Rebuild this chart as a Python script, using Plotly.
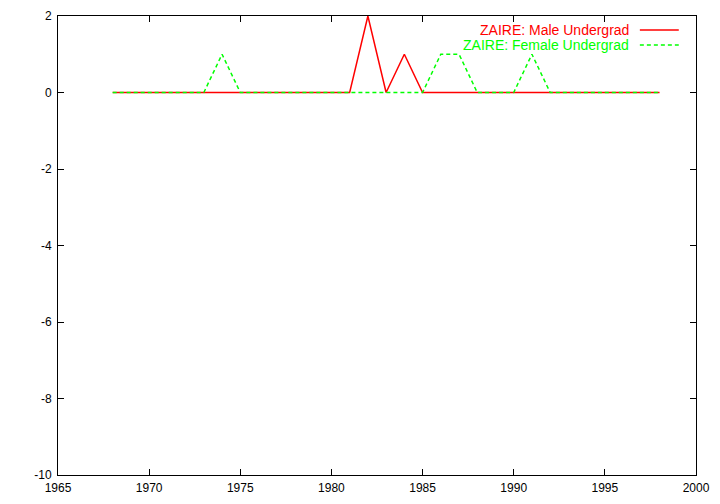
import plotly.graph_objects as go

years = list(range(1968, 1999))
male = [0]*len(years)
female = [0]*len(years)
male_vals = {1982: 2, 1984: 1}
female_vals = {1974: 1, 1986: 1, 1987: 1, 1991: 1}
for y, v in male_vals.items():
    male[years.index(y)] = v
for y, v in female_vals.items():
    female[years.index(y)] = v

x_ticks = [1965, 1970, 1975, 1980, 1985, 1990, 1995, 2000]
y_ticks = [-10, -8, -6, -4, -2, 0, 2]
y_tick_text = ["-10", "-8", "-6", "-4", "-2", "0", "2"]

RED = "#ff0000"
GREEN = "#00ff00"

fig = go.Figure()
fig.add_trace(go.Scatter(x=years, y=male, mode="lines", name="ZAIRE: Male Undergrad",
                         line=dict(color=RED, width=1.5), showlegend=False))
fig.add_trace(go.Scatter(x=years, y=female, mode="lines", name="ZAIRE: Female Undergrad",
                         line=dict(color=GREEN, width=1.5, dash="4px,3px"), showlegend=False))

axis_common = dict(showgrid=False, zeroline=False, showline=True, linecolor="black",
                   linewidth=1, ticks="inside", ticklen=6, tickcolor="black",
                   mirror="ticks", automargin=False,
                   tickfont=dict(family="Liberation Sans, Arial", size=12, color="black"))

fig.update_layout(
    width=720, height=504,
    margin=dict(l=58, r=24, t=16, b=29),
    paper_bgcolor="white", plot_bgcolor="white",
    xaxis=dict(range=[1965, 2000], tickvals=x_ticks, ticklabelstandoff=2, **axis_common),
    yaxis=dict(range=[-10, 2], tickvals=y_ticks, ticktext=y_tick_text,
               ticklabelstandoff=3, **axis_common),
    font=dict(family="Liberation Sans, Arial", size=12),
)

legend_items = [("ZAIRE: Male Undergrad", RED, "solid", 0.9695),
                ("ZAIRE: Female Undergrad", GREEN, "4px,3px", 0.937)]
for text, color, dash, yp in legend_items:
    fig.add_annotation(x=0.8966, y=yp, xref="paper", yref="paper", text=text,
                       showarrow=False, xanchor="right", yanchor="middle",
                       borderpad=0,
                       font=dict(color=color, size=14, family="Liberation Sans, Arial"))
    fig.add_shape(type="line", xref="paper", yref="paper", x0=0.912, x1=0.973, y0=yp, y1=yp,
                  line=dict(color=color, width=1.5, dash=dash))

fig.write_html("out.html", config={"displayModeBar": False},
               post_script="document.body.style.margin='0';document.body.style.overflow='hidden';")
